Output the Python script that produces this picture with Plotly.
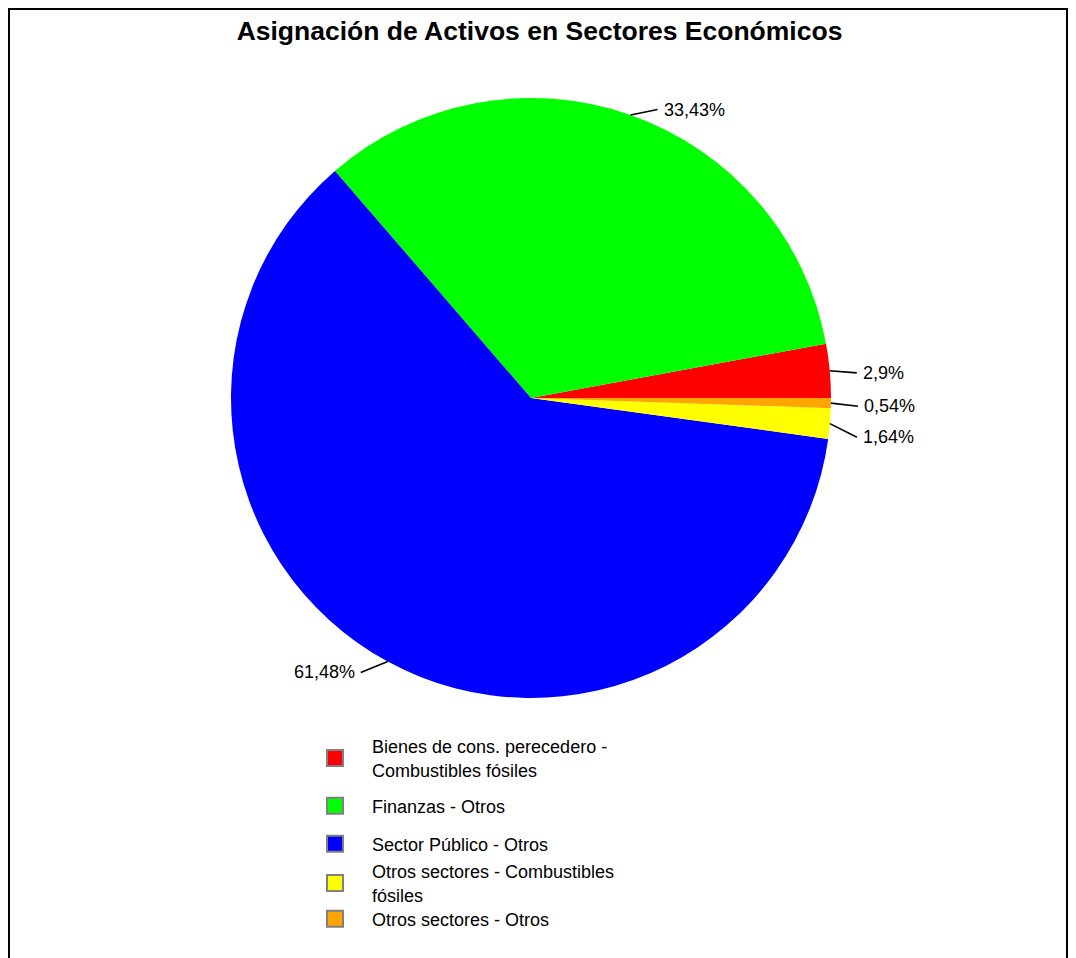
import math
import plotly.graph_objects as go

# ---- data ----
labels = [
    "Bienes de cons. perecedero - Combustibles fósiles",
    "Finanzas - Otros",
    "Sector Público - Otros",
    "Otros sectores - Combustibles fósiles",
    "Otros sectores - Otros",
]
legend_labels = [
    "Bienes de cons. perecedero -<br>Combustibles fósiles",
    "Finanzas - Otros",
    "Sector Público - Otros",
    "Otros sectores - Combustibles<br>fósiles",
    "Otros sectores - Otros",
]
values = [2.9, 33.43, 61.48, 1.64, 0.54]
colors = ["#FF0000", "#00FF00", "#0000FF", "#FFFF00", "#FFA500"]
title_text = "Asignación de Activos en Sectores Económicos"

# ---- layout constants (pixels, in figure space) ----
W, H = 1060, 950
CX, CY, R = 523, 390, 300
FONT = "Arial, Liberation Sans, sans-serif"
LEGEND_X = 290
LEGEND_Y = [750, 798, 836, 875, 911]


def px(x):
    return x / W


def py(y):
    return 1 - y / H


total = sum(values)
first_span = values[0] / total * 360

fig = go.Figure()
fig.add_trace(go.Pie(
    labels=labels,
    values=values,
    marker=dict(colors=colors, line=dict(width=0)),
    sort=False,
    direction="counterclockwise",
    rotation=90 - first_span,
    textinfo="none",
    hoverinfo="label+percent",
    showlegend=False,
    domain=dict(x=[px(CX - R), px(CX + R)], y=[py(CY + R), py(CY - R)]),
))

# legend entries, each in its own legend box
legend_layouts = {}
for i, (lab, col) in enumerate(zip(legend_labels, colors)):
    lname = "legend" if i == 0 else "legend%d" % (i + 1)
    fig.add_trace(go.Scatter(
        x=[None], y=[None], mode="markers", name=lab, legend=lname,
        marker=dict(symbol="square", size=20, color=col,
                    line=dict(color="#808080", width=2)),
        hoverinfo="skip",
    ))
    legend_layouts[lname] = dict(
        x=px(LEGEND_X), y=py(LEGEND_Y[i]), xanchor="left", yanchor="middle",
        font=dict(size=18, color="black", family=FONT),
        bgcolor="rgba(0,0,0,0)", itemwidth=64, borderwidth=0,
    )

# ---- outside labels with leader lines computed from values ----
angles = []
start = 0.0
for v in values:
    span = v / total * 360
    angles.append(start + span / 2)
    start += span

items = []
for v, a in zip(values, angles):
    t = math.radians(a)
    ex = CX + R * math.cos(t)
    ey = CY - R * math.sin(t)
    side = 1 if math.cos(t) >= 0 else -1
    ly = CY - R * 1.03 * math.sin(t) + 3
    items.append(dict(v=v, ex=ex, ey=ey, side=side, ly=ly))

GAP = 31
for side in (1, -1):
    group = sorted([it for it in items if it["side"] == side], key=lambda d: d["ly"])
    for i in range(1, len(group)):
        if group[i]["ly"] - group[i - 1]["ly"] < GAP:
            group[i]["ly"] = group[i - 1]["ly"] + GAP

shapes = []
annotations = []
for it in items:
    lx = it["ex"] + 27 * it["side"]
    shapes.append(dict(type="line", xref="paper", yref="paper",
                       x0=px(it["ex"]), y0=py(it["ey"]), x1=px(lx), y1=py(it["ly"]),
                       line=dict(color="black", width=1.6)))
    txt = ("%g" % it["v"]).replace(".", ",") + "%"
    annotations.append(dict(
        x=px(lx + 4 * it["side"]), y=py(it["ly"]), xref="paper", yref="paper",
        text=txt, showarrow=False,
        xanchor="left" if it["side"] > 0 else "right", yanchor="middle",
        font=dict(size=18, color="black", family=FONT),
    ))

# outer frame
shapes.append(dict(type="rect", xref="paper", yref="paper",
                   x0=px(1), x1=px(1059), y0=-0.05, y1=py(1),
                   line=dict(color="black", width=2), fillcolor="rgba(0,0,0,0)"))

fig.update_layout(
    width=W, height=H,
    margin=dict(l=0, r=0, t=0, b=0, autoexpand=False),
    paper_bgcolor="white", plot_bgcolor="white",
    title=dict(text="<b>" + title_text + "</b>", x=px(531.5), xanchor="center",
               y=py(23), yanchor="middle",
               font=dict(size=26.5, color="black", family=FONT)),
    font=dict(family=FONT, color="black"),
    xaxis=dict(visible=False), yaxis=dict(visible=False),
    shapes=shapes,
    annotations=annotations,
    **legend_layouts,
)

fig.write_html("out.html")
